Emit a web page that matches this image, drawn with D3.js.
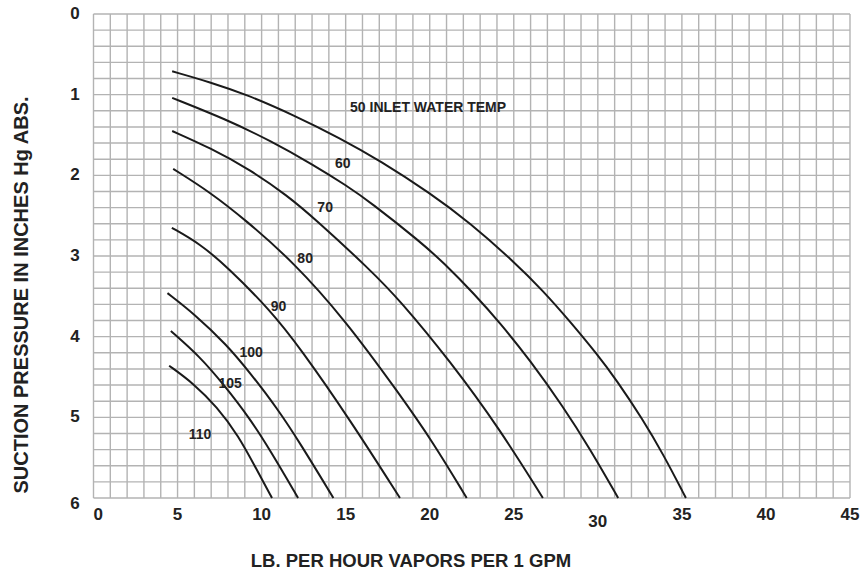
<!DOCTYPE html>
<html>
<head>
<meta charset="utf-8">
<script src="https://cdn.jsdelivr.net/npm/d3@7/dist/d3.min.js"></script>
<style>
  html, body { margin: 0; padding: 0; background: #fff; }
  svg { display: block; font-family: "Liberation Sans", Arial, Helvetica, sans-serif; font-weight: bold; }
</style>
</head>
<body>
<svg id="chart" width="866" height="573"></svg>
<script>
// ---- data (x = lb/hr vapors per 1 GPM, y = suction pressure in. Hg abs.) ----
const xTicks = [0, 5, 10, 15, 20, 25, 30, 35, 40, 45];
const yTicks = [0, 1, 2, 3, 4, 5, 6];
const temps = ["50", "60", "70", "80", "90", "100", "105", "110"];
const curve50  = [[4.68,0.71],[6.94,0.845],[9.12,1.0],[11.87,1.25],[14.67,1.54],[17.05,1.82],[20.02,2.22],[22.4,2.59],[24.95,3.06],[26.74,3.43],[28.34,3.81],[29.93,4.21],[31.12,4.54],[32.68,5.03],[33.87,5.45],[35.24,6.0]];
const curve60  = [[4.68,1.04],[7.93,1.31],[10.51,1.57],[13.08,1.87],[15.07,2.13],[16.45,2.33],[19.42,2.82],[20.81,3.08],[22.69,3.48],[24.18,3.83],[25.96,4.29],[27.94,4.87],[29.53,5.39],[31.21,6.0]];
const curve70  = [[4.68,1.45],[6.94,1.66],[9.32,1.93],[11.52,2.25],[13.18,2.54],[16.45,3.17],[18.23,3.55],[21.2,4.3],[24.18,5.15],[26.73,6.0]];
const curve80  = [[4.74,1.92],[6.94,2.21],[9.02,2.55],[11.87,3.07],[14.96,3.79],[18.23,4.72],[20.2,5.31],[22.2,6.0]];
const curve90  = [[4.66,2.65],[6.34,2.85],[7.93,3.13],[10.51,3.67],[12.29,4.14],[15.26,5.03],[18.23,6.0]];
const curve100 = [[4.4,3.46],[5.95,3.71],[7.93,4.1],[9.32,4.45],[10.9,4.88],[12.29,5.32],[14.27,6.0]];
const curve105 = [[4.6,3.93],[6.34,4.25],[7.73,4.59],[9.32,5.02],[10.51,5.41],[12.17,6.0]];
const curve110 = [[4.5,4.36],[5.95,4.58],[7.34,4.87],[8.6,5.22],[9.79,5.68],[10.62,6.0]];
const curves = [curve50, curve60, curve70, curve80, curve90, curve100, curve105, curve110];
const labelTexts = ["50 INLET WATER TEMP", "60", "70", "80", "90", "100", "105", "110"];
const labelAnchors = [[15.26,1.15],[14.83,1.85],[13.78,2.39],[12.59,3.02],[11.01,3.62],[9.38,4.19],[8.13,4.57],[6.34,5.2]];

// ---- layout ----
const svg = d3.select("#chart");
const W = 866, H = 573;
const margin = { left: 93.5, right: 16, top: 14, bottom: 75 };
const x = d3.scaleLinear().domain([0, 45]).range([margin.left, W - margin.right]);
const y = d3.scaleLinear().domain([0, 6]).range([margin.top, H - margin.bottom]);

svg.append("rect").attr("width", W).attr("height", H).attr("fill", "#fff");

const gridColor = "#b3b3b3";
// vertical grid (every 1 unit)
svg.append("g").selectAll("line").data(d3.range(0, 46, 1)).join("line")
  .attr("x1", d => x(d)).attr("x2", d => x(d))
  .attr("y1", y(0)).attr("y2", y(6))
  .attr("stroke", gridColor).attr("stroke-width", 1.4);
// horizontal grid (every 0.2 unit)
svg.append("g").selectAll("line").data(d3.range(0, 31, 1).map(i => i * 0.2)).join("line")
  .attr("y1", d => y(d)).attr("y2", d => y(d))
  .attr("x1", x(0)).attr("x2", x(45))
  .attr("stroke", gridColor).attr("stroke-width", 1.4);

// x tick labels
svg.append("g").selectAll("text").data(xTicks).join("text")
  .attr("x", d => x(d))
  .attr("y", (d) => y(6) + 22 + (d === 30 ? 7 : 0))
  .attr("text-anchor", d => d === 0 ? "start" : "middle")
  .attr("font-size", 17).attr("fill", "#222")
  .text(d => d);

// y tick labels
svg.append("g").selectAll("text").data(yTicks).join("text")
  .attr("x", 75)
  .attr("y", d => y(d) + (d === 6 ? 5 : -1))
  .attr("dy", "0.36em")
  .attr("text-anchor", "middle")
  .attr("font-size", 17).attr("fill", "#222")
  .text(d => d);

// curves
const line = d3.line().x(d => x(d[0])).y(d => y(d[1])).curve(d3.curveBasis);
svg.append("g").selectAll("path").data(curves).join("path")
  .attr("d", line)
  .attr("fill", "none").attr("stroke", "#1a1a1a").attr("stroke-width", 2);

// curve labels
svg.append("g").selectAll("text").data(labelTexts).join("text")
  .attr("x", (d, i) => x(labelAnchors[i][0]))
  .attr("y", (d, i) => y(labelAnchors[i][1]))
  .attr("dy", "0.36em")
  .attr("text-anchor", (d, i) => i === 0 ? "start" : "middle")
  .attr("font-size", 14).attr("fill", "#222")
  .text(d => d);

// axis titles
svg.append("text")
  .attr("x", 411).attr("y", 560).attr("dy", "0.36em")
  .attr("text-anchor", "middle").attr("font-size", 18.5).attr("fill", "#222")
  .text("LB. PER HOUR VAPORS PER 1 GPM");
svg.append("text")
  .attr("transform", "translate(21,295) rotate(-90)")
  .attr("dy", "0.36em")
  .attr("text-anchor", "middle").attr("font-size", 20).attr("fill", "#222")
  .text("SUCTION PRESSURE IN INCHES Hg ABS.");
</script>
</body>
</html>
